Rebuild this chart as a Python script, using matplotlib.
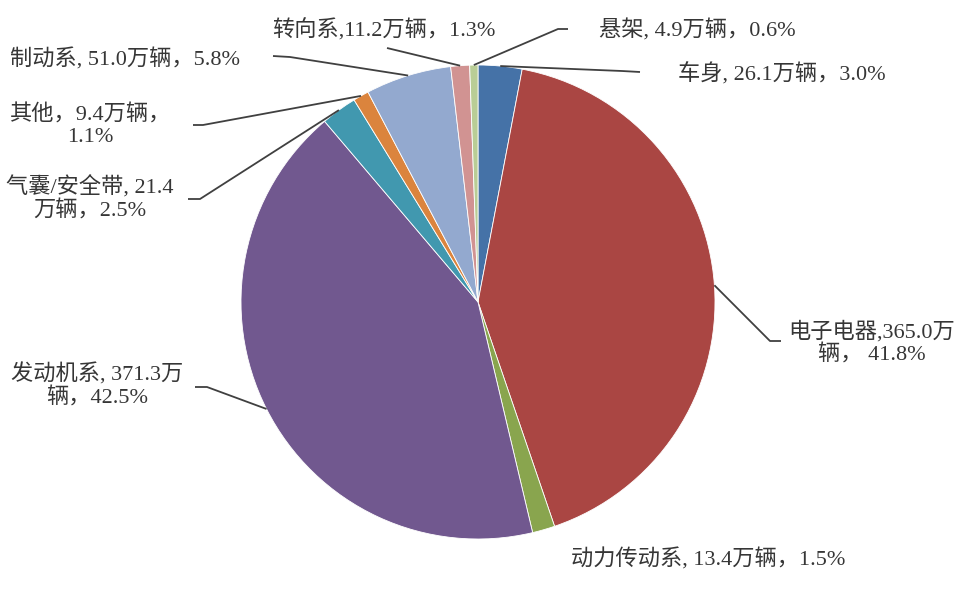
import matplotlib
matplotlib.use("Agg")
import matplotlib.pyplot as plt
import numpy as np

# ---- data ----
categories = ["车身", "电子电器", "动力传动系", "发动机系", "气囊/安全带",
              "其他", "制动系", "转向系", "悬架"]
values = [26.1, 365.0, 13.4, 371.3, 21.4, 9.4, 51.0, 11.2, 4.9]   # 万辆
percents = [3.0, 41.8, 1.5, 42.5, 2.5, 1.1, 5.8, 1.3, 0.6]
label_texts = [
    "车身, 26.1万辆，3.0%",
    "电子电器,365.0万\n辆， 41.8%",
    "动力传动系, 13.4万辆，1.5%",
    "发动机系, 371.3万\n辆，42.5%",
    "气囊/安全带, 21.4\n万辆，2.5%",
    "其他，9.4万辆，\n1.1%",
    "制动系, 51.0万辆，5.8%",
    "转向系,11.2万辆，1.3%",
    "悬架, 4.9万辆，0.6%",
]
colors = ["#4572A7", "#AA4643", "#89A54E", "#71588F", "#4198AF",
          "#DB843D", "#93A9CF", "#D19392", "#B9CD96"]

W, H = 974, 589
fig = plt.figure(figsize=(W / 100, H / 100), dpi=100)
ax = fig.add_axes([0, 0, 1, 1])

cx, cy, R = 478, H - 302, 237
wedges, _ = ax.pie(values, colors=colors, startangle=90, counterclock=False,
                   center=(cx, cy), radius=R,
                   wedgeprops=dict(edgecolor="white", linewidth=0.6))
ax.set_xlim(0, W)
ax.set_ylim(0, H)
ax.set_aspect("equal")
ax.axis("off")

# layout (pixel coords, y from top): elbow point, line end, text anchor, alignment
layout = [
    ((622, 71), (640, 72), (678, 74), "left"),
    ((770, 341), (781, 341), (872, 343), "center"),
    (None, None, (708, 559), "center"),
    ((207, 387), (195, 387), (97, 386), "center"),
    ((200, 199), (188, 199), (90, 199), "center"),
    ((203, 125), (193, 125), (90, 126), "center"),
    ((290, 57), (273, 56), (10, 59), "left"),
    ((387, 48), (387, 48), (272, 30), "left"),
    ((558, 29), (568, 29), (599, 30), "left"),
]

fam = ["Liberation Serif", "Noto Sans CJK SC"]
tcol = "#363636"
for w, txt, (elb, end, tpos, ha) in zip(wedges, label_texts, layout):
    if elb is not None:
        ang = np.deg2rad((w.theta1 + w.theta2) / 2)
        sx, sy = cx + R * 1.0 * np.cos(ang), cy + R * 1.0 * np.sin(ang)
        ax.plot([sx, elb[0], end[0]], [sy, H - elb[1], H - end[1]],
                color="#404040", lw=1.3, solid_capstyle="butt")
    ax.text(tpos[0], H - tpos[1], txt, ha=ha, va="center", fontsize=16,
            family=fam, color=tcol, linespacing=1.15, multialignment="center")

fig.savefig("out.png", dpi=100)
